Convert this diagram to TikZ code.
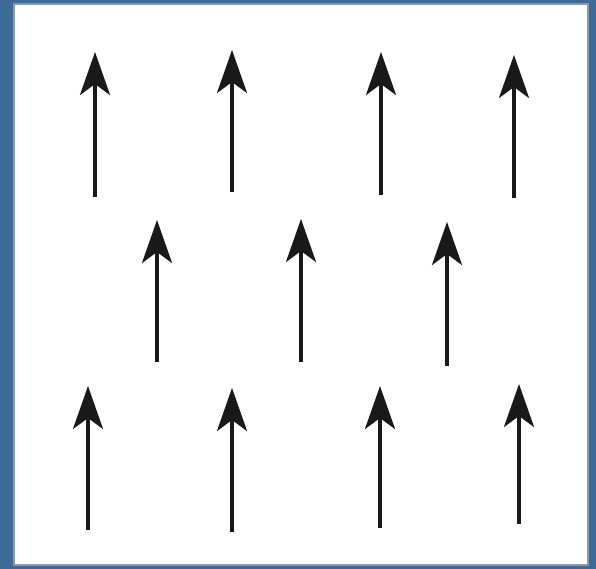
\documentclass[tikz,border=0pt]{standalone}
\usetikzlibrary{arrows.meta}
\definecolor{frameblue}{HTML}{3E6B95}
\definecolor{edgegrey}{HTML}{8A9AAA}
\tikzset{
  vec/.style={line width=3.4pt, black!90,
    -{Stealth[length=43pt, width=30pt, inset=11pt]}},
}
\begin{document}
\begin{tikzpicture}[x=1pt,y=-1pt]
\fill[frameblue] (0,0) rectangle (596,569);
\fill[white] (14,4) rectangle (588,565);
\draw[edgegrey, line width=1.5pt] (14,4) rectangle (588,565);
% row 1
\foreach \x/\t/\b in {95/52/197, 232/50/192, 381/52/195, 514/55/198}{
  \coordinate (s) at (\x,\b); \coordinate (e) at (\x,\t);
  \draw[vec] (s) -- (e);
}
% row 2
\foreach \x/\t/\b in {157/220/362, 301/219/362, 447/222/366}{
  \coordinate (s) at (\x,\b); \coordinate (e) at (\x,\t);
  \draw[vec] (s) -- (e);
}
% row 3
\foreach \x/\t/\b in {88/386/530, 232/388/532, 380/386/528, 519/384/524}{
  \coordinate (s) at (\x,\b); \coordinate (e) at (\x,\t);
  \draw[vec] (s) -- (e);
}
\end{tikzpicture}
\end{document}
